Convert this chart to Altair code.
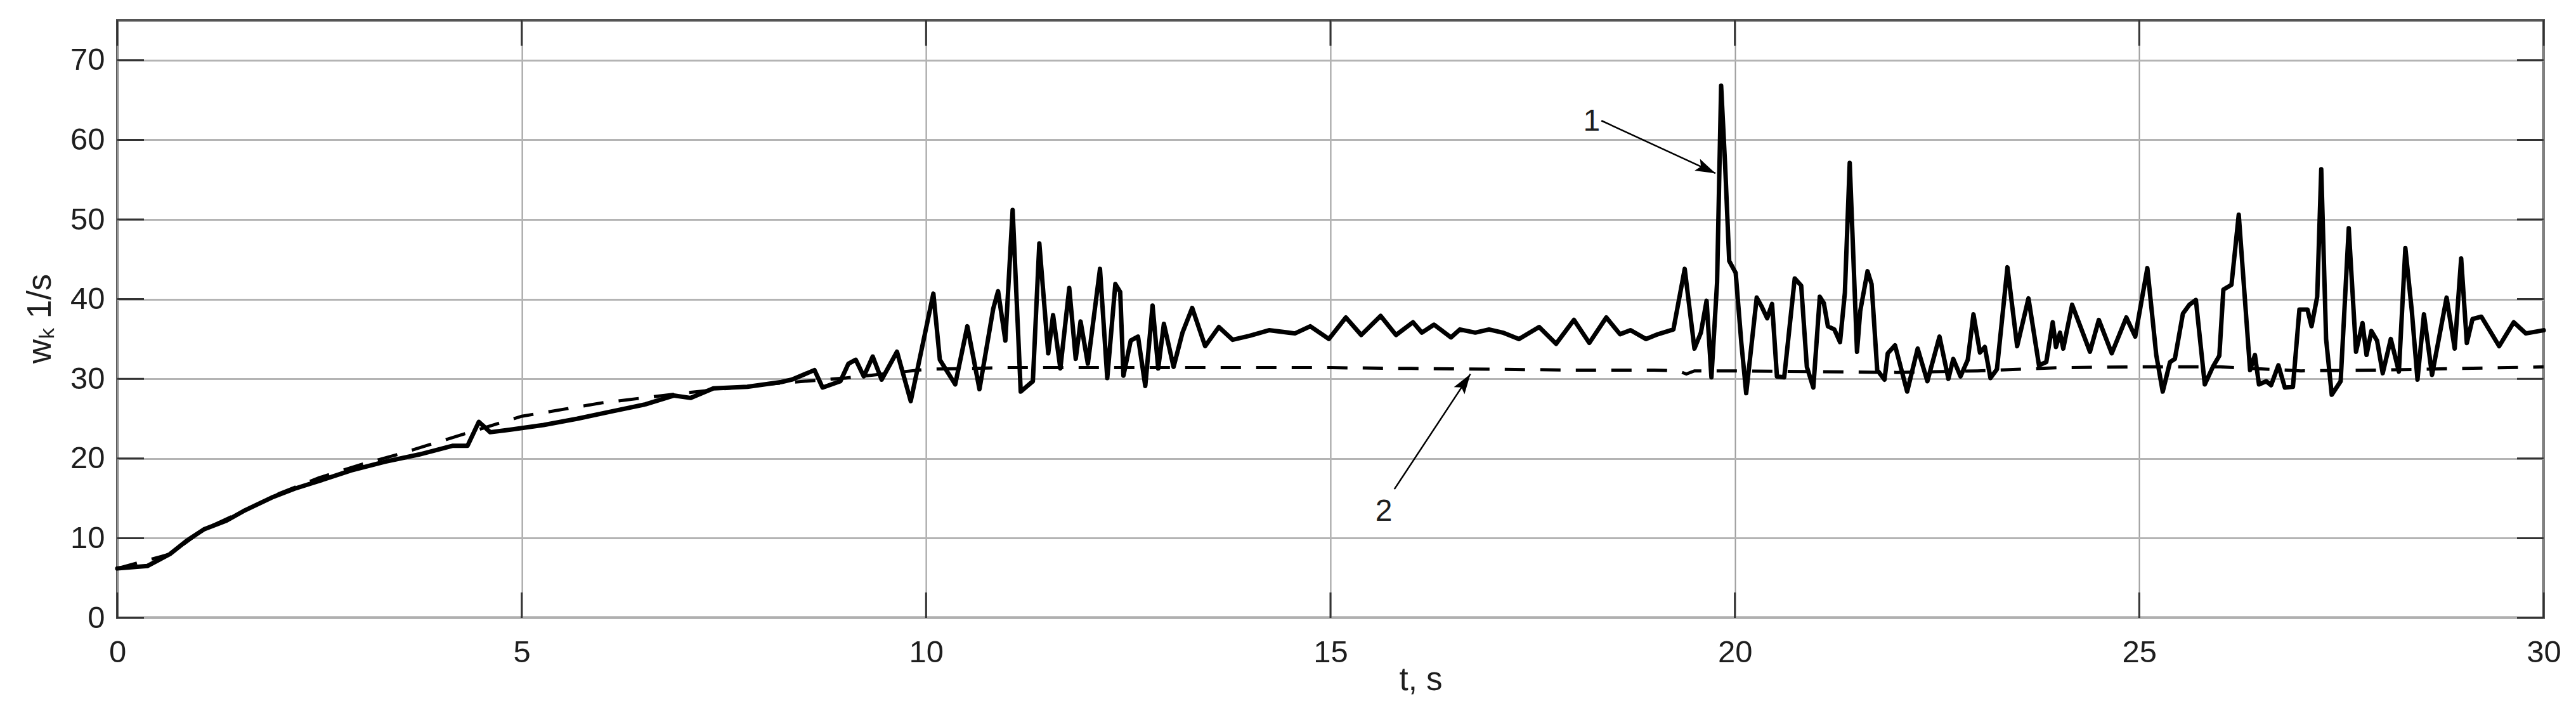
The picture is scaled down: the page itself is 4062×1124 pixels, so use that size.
import altair as alt
import pandas as pd

# curve 1 (solid)
t_solid = [0.0, 0.37, 0.65, 0.86, 1.07, 1.35, 1.56, 1.91, 2.19, 2.47, 2.89, 3.31, 3.73,
           4.15, 4.33, 4.47, 4.61, 4.85, 5.27, 5.69, 6.11, 6.53, 6.88, 7.09, 7.37, 7.79,
           8.21, 8.34, 8.62, 8.72, 8.94, 9.04, 9.13, 9.23, 9.34, 9.45, 9.64, 9.81, 10.09,
           10.17, 10.36, 10.51, 10.66, 10.83, 10.89, 10.98, 11.07, 11.17, 11.32, 11.40,
           11.51, 11.57, 11.66, 11.77, 11.85, 11.91, 12.0, 12.15, 12.24, 12.34, 12.40,
           12.44, 12.53, 12.62, 12.71, 12.80, 12.87, 12.94, 13.06, 13.17, 13.29, 13.45,
           13.62, 13.79, 14.0, 14.24, 14.56, 14.75, 14.98, 15.19, 15.38, 15.62, 15.81,
           16.02, 16.13, 16.28, 16.49, 16.6, 16.79, 16.96, 17.13, 17.33, 17.58, 17.79,
           18.01, 18.20, 18.41, 18.58, 18.71, 18.90, 19.05, 19.24, 19.38, 19.5, 19.58,
           19.65, 19.71, 19.78, 19.83, 19.88, 19.93, 20.01, 20.08, 20.14, 20.27, 20.33,
           20.40, 20.46, 20.52, 20.61, 20.74, 20.82, 20.89, 20.97, 21.05, 21.10, 21.15,
           21.23, 21.30, 21.36, 21.42, 21.51, 21.55, 21.64, 21.69, 21.76, 21.85, 21.89,
           21.98, 22.13, 22.26, 22.38, 22.53, 22.64, 22.70, 22.79, 22.88, 22.95, 23.03,
           23.09, 23.16, 23.24, 23.37, 23.49, 23.63, 23.76, 23.85, 23.93, 23.97, 24.02,
           24.06, 24.17, 24.39, 24.50, 24.66, 24.84, 24.95, 25.10, 25.21, 25.29, 25.38,
           25.44, 25.54, 25.62, 25.70, 25.81, 25.91, 25.99, 26.04, 26.14, 26.23, 26.37,
           26.43, 26.48, 26.57, 26.63, 26.72, 26.80, 26.90, 26.98, 27.08, 27.13, 27.20,
           27.25, 27.31, 27.38, 27.49, 27.59, 27.68, 27.76, 27.81, 27.87, 27.94, 28.01,
           28.11, 28.21, 28.29, 28.37, 28.44, 28.52, 28.62, 28.80, 28.90, 28.98, 29.05,
           29.12, 29.23, 29.45, 29.63, 29.78, 30.0]
w_solid = [6.2, 6.5, 8.0, 9.7, 11.1, 12.2, 13.4, 15.1, 16.2, 17.1, 18.5, 19.6, 20.5,
           21.6, 21.6, 24.6, 23.3, 23.6, 24.2, 25.0, 25.9, 26.8, 27.9, 27.6, 28.8, 29.0,
           29.6, 29.9, 31.1, 28.9, 29.7, 31.9, 32.4, 30.3, 32.8, 29.9, 33.4, 27.2, 40.7,
           32.4, 29.3, 36.6, 28.7, 38.8, 41.0, 34.8, 51.2, 28.4, 29.7, 47.0,
           33.2, 38.0, 31.3, 41.4, 32.5, 37.2, 31.9, 43.8, 30.1, 41.9, 40.9,
           30.4, 34.8, 35.3, 29.1, 39.2, 31.3, 36.9, 31.5, 35.8, 38.9, 34.1,
           36.5, 34.9, 35.4, 36.1, 35.7, 36.6, 35.0, 37.7, 35.5, 37.9, 35.5,
           37.1, 35.8, 36.8, 35.2, 36.2, 35.8, 36.2, 35.8, 35.0, 36.5, 34.4,
           37.4, 34.5, 37.7, 35.6, 36.1, 35.0, 35.6, 36.2, 43.8, 33.8, 35.8,
           39.8, 30.2, 42.1, 66.8, 56.7, 44.8, 43.3, 34.5, 28.2, 40.2, 39.1,
           37.6, 39.4, 30.3, 30.2, 42.6, 41.7, 31.5, 28.9, 40.3, 39.5, 36.6,
           36.2, 34.6, 40.8, 57.1, 33.4, 38.5, 43.5, 41.9, 31.1, 29.9, 33.2,
           34.2, 28.4, 33.8, 29.7, 35.3, 30.0, 32.5, 30.3, 32.4, 38.1, 33.3,
           34.0, 30.1, 31.2, 44.0, 34.1, 40.1, 31.7, 32.1, 37.1, 34.0, 35.8,
           33.8, 39.3, 33.4, 37.4, 33.2, 37.7, 35.3, 43.9, 33.0, 28.4, 32.1,
           32.5, 38.2, 39.3, 39.9, 29.3, 31.5, 32.9, 41.2, 41.8, 50.6, 31.1,
           33.0, 29.3, 29.7, 29.2, 31.7, 28.9, 29.0, 38.7, 38.7, 36.6, 40.3,
           56.3, 35.0, 28.0, 29.7, 48.9, 33.4, 37.0, 33.0, 36.0, 34.8, 30.7,
           35.0, 30.9, 46.4, 38.5, 29.9, 38.1, 30.5, 40.2, 33.8, 45.1, 34.5,
           37.5, 37.8, 34.1, 37.1, 35.7, 36.1]

# curve 2 (dashed)
t_dash = [0.0, 0.65, 1.07, 1.56, 2.0, 2.5, 3.0, 3.5, 4.2, 5.0, 6.0, 7.0, 8.0, 9.0, 10.0,
          11.0, 12.0, 13.0, 14.0, 15.0, 16.0, 17.0, 18.0, 19.0, 19.3, 19.4, 19.5, 20.0,
          21.0, 22.0, 23.0, 24.0, 25.0, 26.0, 27.0, 28.0, 29.0, 30.0]
w_dash = [6.2, 8.0, 11.1, 13.4, 15.6, 17.6, 19.2, 20.6, 22.8, 25.3, 27.0, 28.2, 29.3, 30.1, 31.2,
          31.4, 31.4, 31.4, 31.4, 31.4, 31.3, 31.2, 31.1, 31.1, 31.0, 30.6, 31.0, 31.0,
          30.9, 30.8, 31.0, 31.4, 31.5, 31.5, 31.0, 31.1, 31.3, 31.5]

x_ticks = [0, 5, 10, 15, 20, 25, 30]
y_ticks = [0, 10, 20, 30, 40, 50, 60, 70]

# curve labels and leader arrows
label_text = ["1", "2"]
label_t = [18.23, 15.66]
label_w = [62.3, 13.3]
arrow_t0 = [18.35, 15.79]
arrow_w0 = [62.4, 16.15]
arrow_t1 = [19.76, 16.73]
arrow_w1 = [55.8, 30.6]
arrow_angle = [115, 34]

W, H = 3826, 942
FONT = "Liberation Sans"
INK = "#1e1e1e"

x_axis = alt.Axis(values=x_ticks, title="t, s", grid=True, gridColor="#9c9c9c", gridWidth=2,
                  domain=False, tickSize=0, labelPadding=30, labelFontSize=49,
                  labelFont=FONT, labelColor=INK, labelFlush=False,
                  titleFont=FONT, titleFontSize=51, titleFontWeight="normal", titleColor=INK,
                  titleX=2055, titleY=113, titleBaseline="alphabetic", titleAlign="center")
y_axis = alt.Axis(values=y_ticks, title="wₖ  1/s", grid=True, gridColor="#b4b4b4", gridWidth=3,
                  domain=False, tickSize=0, labelPadding=20, labelFontSize=49,
                  labelFont=FONT, labelColor=INK,
                  titleFont=FONT, titleFontSize=53, titleFontWeight="normal", titleColor=INK,
                  titleAngle=270, titleX=-106, titleY=470, titleBaseline="alphabetic",
                  titleAlign="center")

X = alt.X("t:Q", scale=alt.Scale(domain=[0, 30], nice=False, zero=False), axis=x_axis)
Y = alt.Y("w:Q", scale=alt.Scale(domain=[0, 75], nice=False), axis=y_axis)

solid = alt.Chart(pd.DataFrame({"t": t_solid, "w": w_solid})).mark_line(
    color="black", strokeWidth=7, strokeJoin="round", strokeCap="round"
).encode(x=X, y=Y)

dashed = alt.Chart(pd.DataFrame({"t": t_dash, "w": w_dash})).mark_line(
    color="black", strokeWidth=5, strokeDash=[32, 24]
).encode(x=X, y=Y)

yt = pd.DataFrame({"w": y_ticks})
xt = pd.DataFrame({"t": x_ticks})
tick_style = dict(color="#333333", strokeWidth=3)
ticks_left = alt.Chart(yt).mark_rule(**tick_style).encode(
    y=Y, x=alt.value(0), x2=alt.value(42))
ticks_right = alt.Chart(yt).mark_rule(**tick_style).encode(
    y=Y, x=alt.value(W - 42), x2=alt.value(W))
ticks_bottom = alt.Chart(xt).mark_rule(**tick_style).encode(
    x=X, y=alt.value(H - 40), y2=alt.value(H))
ticks_top = alt.Chart(xt).mark_rule(**tick_style).encode(
    x=X, y=alt.value(0), y2=alt.value(40))

labels = alt.Chart(pd.DataFrame({"t": label_t, "w": label_w, "label": label_text})).mark_text(
    font=FONT, fontSize=48, color=INK, baseline="middle", align="center"
).encode(x=X, y=Y, text="label:N")

arrows = alt.Chart(pd.DataFrame({"t": arrow_t0, "w": arrow_w0,
                                 "t_end": arrow_t1, "w_end": arrow_w1})).mark_rule(
    color="black", strokeWidth=2.5
).encode(x=X, y=Y, x2="t_end:Q", y2="w_end:Q")

heads = alt.Chart(pd.DataFrame({"t": arrow_t1, "w": arrow_w1, "angle": arrow_angle})).mark_point(
    shape="M0,0L0.32,1L0,0.8L-0.32,1Z", filled=True, color="black", opacity=1, size=4000
).encode(x=X, y=Y, angle=alt.Angle("angle:Q", scale=None))

chart = alt.layer(
    dashed, solid, ticks_left, ticks_right, ticks_bottom, ticks_top, arrows, heads, labels
).properties(
    width=W, height=H,
    autosize=alt.AutoSizeParams(type="none"),
    padding={"left": 177, "top": 24, "right": 40, "bottom": 140},
    background="white",
).configure_view(
    stroke="#555555", strokeWidth=4
)

chart.save("out.html", embed_options={"renderer": "svg", "actions": False})
